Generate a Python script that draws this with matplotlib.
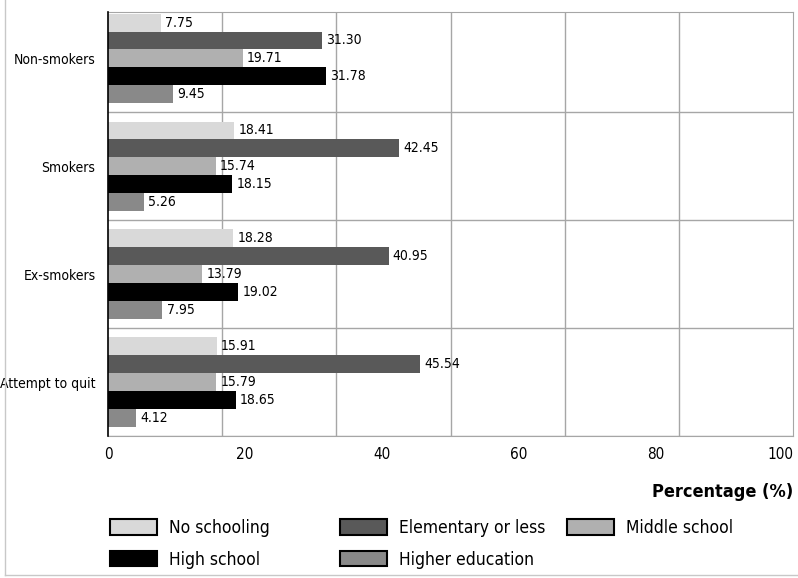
import numpy as np
import matplotlib
matplotlib.use('Agg')
import matplotlib.pyplot as plt
from matplotlib import font_manager
from matplotlib.patches import Patch
from matplotlib.lines import Line2D

# Узкий шрифт, если есть
cond = [f for f in font_manager.fontManager.ttflist
        if f.name == 'DejaVu Sans' and 'ondensed' in str(f.stretch) + f.fname]
plt.rcParams['font.family'] = ['DejaVu Sans']
if cond:
    plt.rcParams['font.stretch'] = 'condensed'

# Данные
groups = ['Non-smokers', 'Smokers', 'Ex-smokers', 'Attempt to quit']
levels = ['No schooling', 'Elementary or less', 'Middle school', 'High school', 'Higher education']
no_schooling = [7.75, 18.41, 18.28, 15.91]
elementary = [31.30, 42.45, 40.95, 45.54]
middle_school = [19.71, 15.74, 13.79, 15.79]
high_school = [31.78, 18.15, 19.02, 18.65]
higher_education = [9.45, 5.26, 7.95, 4.12]
series = [no_schooling, elementary, middle_school, high_school, higher_education]
colors = ['#d9d9d9', '#595959', '#b0b0b0', '#000000', '#898989']

fig = plt.figure(figsize=(7.98, 5.78), dpi=100)
ax = fig.add_axes([108 / 798, 1 - 436 / 578, 685 / 798, 424 / 578])

bar_h = 0.166
y = np.arange(len(groups))
for i, (vals, c) in enumerate(zip(series, colors)):
    pos = y - 2 * bar_h + i * bar_h
    bars = ax.barh(pos, vals, height=bar_h, color=c, zorder=3)
    for b, v in zip(bars, vals):
        ax.annotate(f'{v:.2f}', (v, b.get_y() + b.get_height() / 2),
                    xytext=(3, 0), textcoords='offset points',
                    va='center', ha='left', fontsize=10, zorder=4)

ax.set_yticks(y)
ax.set_yticklabels(groups, fontsize=10)
ax.set_xticks(np.arange(0, 101, 20))
ax.set_xticklabels([str(t) for t in range(0, 101, 20)], fontsize=11)
ax.get_xticklabels()[-1].set_horizontalalignment('right')
ax.tick_params(length=0, pad=8)
ax.tick_params(axis='y', pad=9)

# Сетка
ax.set_xticks(np.linspace(0, 100, 7), minor=True)
ax.set_yticks(np.arange(-0.5, len(groups), 1), minor=True)
ax.tick_params(which='minor', length=0)
ax.grid(which='minor', color='#a6a6a6', linewidth=1, zorder=0)
ax.grid(which='major', visible=False)

# Пределы после тиков
ax.set_xlim(0, 100)
ax.set_ylim(len(groups) - 0.5, -0.43)

for s in ['top', 'right', 'bottom']:
    ax.spines[s].set_color('#a6a6a6')
ax.spines['left'].set_color('black')
ax.spines['left'].set_linewidth(1.2)
ax.spines['left'].set_zorder(5)

fig.text(793 / 798, 1 - 492 / 578, 'Percentage (%)', ha='right', va='center',
         fontsize=13, fontweight='bold')

# Легенда по колонкам
cols = [[0, 3], [1, 4], [2]]
xs = [101, 331, 558]
for col, x0 in zip(cols, xs):
    handles = [Patch(facecolor=colors[k], edgecolor='black', linewidth=1.5) for k in col]
    fig.legend(handles, [levels[k] for k in col], loc='upper left',
               bbox_to_anchor=(x0 / 798, 1 - 510 / 578), frameon=False,
               fontsize=12.5, handlelength=2.7, handleheight=1.0,
               handletextpad=0.7, labelspacing=0.8, borderpad=0)

# Рамка рисунка
fig.add_artist(Line2D([5 / 798, 5 / 798], [0.005, 1], color='#c8c8c8', linewidth=1))
fig.add_artist(Line2D([5 / 798, 1], [0.005, 0.005], color='#c8c8c8', linewidth=1))

fig.savefig('out.png', dpi=100)
